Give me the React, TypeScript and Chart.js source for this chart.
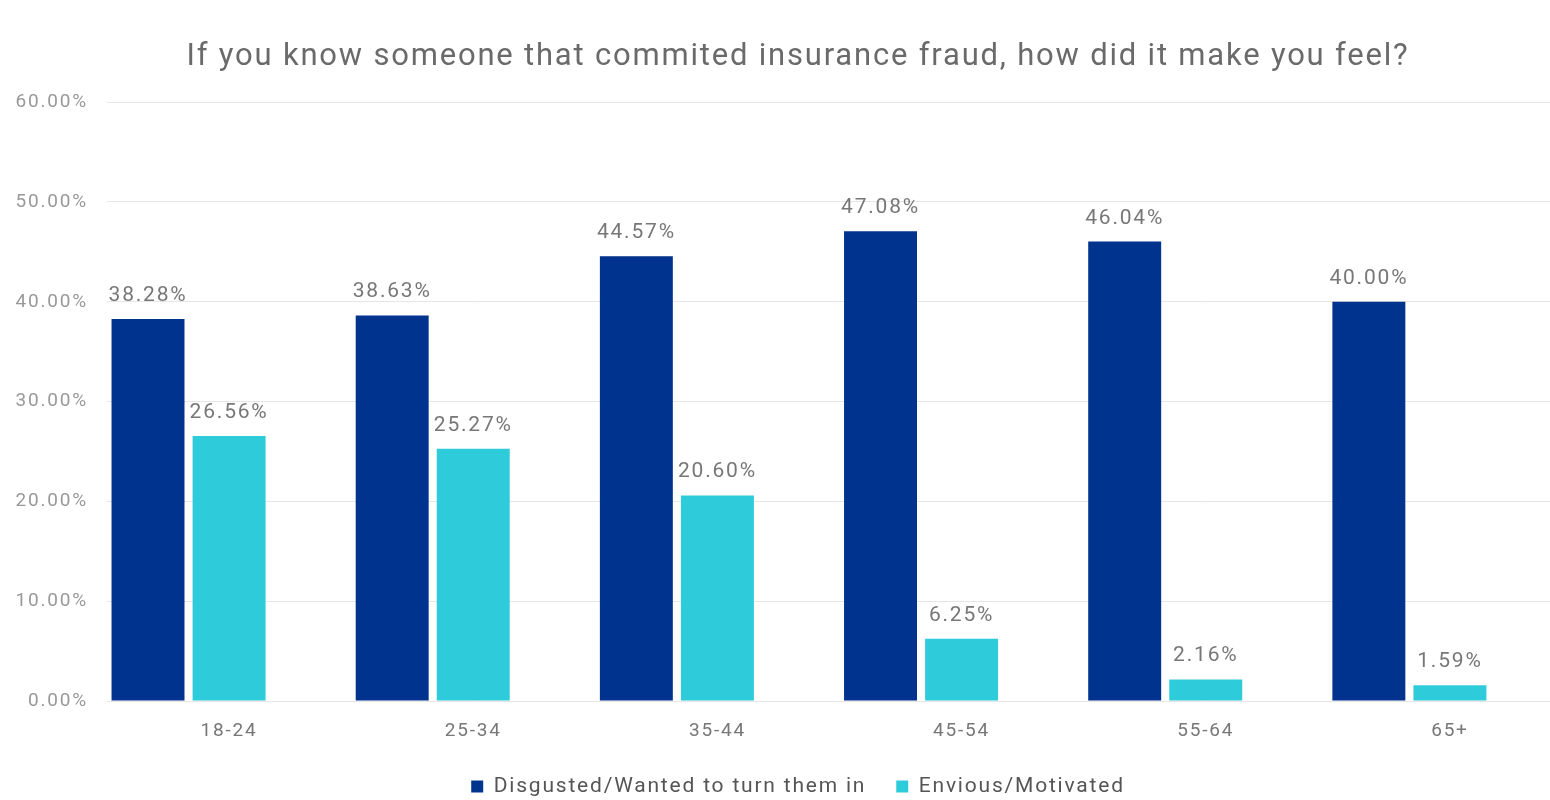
import React, { useEffect, useRef } from "react";
import { Chart, registerables } from "chart.js";

Chart.register(...registerables);

const titleText = "If you know someone that commited insurance fraud, how did it make you feel?";
const categories = ["18-24", "25-34", "35-44", "45-54", "55-64", "65+"];
const seriesNames = ["Disgusted/Wanted to turn them in", "Envious/Motivated"];
const disgusted = [38.28, 38.63, 44.57, 47.08, 46.04, 40.0];
const envious = [26.56, 25.27, 20.6, 6.25, 2.16, 1.59];
// empty third slot present in the original chart layout
const emptySlot = [null, null, null, null, null, null];
const yMin = 0;
const yMax = 60;
const yStep = 10;

const FONT = "Roboto";
const LETTER_SPACING = "1.8px";

const letterSpacing = {
  id: "letterSpacing",
  beforeUpdate(chart: any) {
    (chart.ctx as any).letterSpacing = LETTER_SPACING;
  },
  beforeLayout(chart: any) {
    (chart.ctx as any).letterSpacing = LETTER_SPACING;
  },
  beforeDraw(chart: any) {
    (chart.ctx as any).letterSpacing = LETTER_SPACING;
  },
};

const valueLabels = {
  id: "valueLabels",
  afterDatasetsDraw(chart: any) {
    const ctx = chart.ctx;
    ctx.save();
    ctx.font = `21px ${FONT}`;
    ctx.fillStyle = "#777777";
    ctx.textAlign = "center";
    ctx.textBaseline = "alphabetic";
    [0, 1].forEach((di) => {
      const meta = chart.getDatasetMeta(di);
      const data = chart.data.datasets[di].data as number[];
      meta.data.forEach((bar: any, i: number) => {
        const v = data[i];
        if (v == null) return;
        ctx.fillText(`${v.toFixed(2)}%`, bar.x, bar.y - 18);
      });
    });
    ctx.restore();
  },
};

export default function App() {
  const ref = useRef<HTMLCanvasElement>(null);
  useEffect(() => {
    if (!ref.current) return;
    const chart = new Chart(ref.current, {
      type: "bar",
      data: {
        labels: categories,
        datasets: [
          {
            label: seriesNames[0],
            data: disgusted,
            backgroundColor: "#00338D",
            categoryPercentage: 0.996,
            barPercentage: 0.9,
          },
          {
            label: seriesNames[1],
            data: envious,
            backgroundColor: "#2ECCDA",
            categoryPercentage: 0.996,
            barPercentage: 0.9,
          },
          {
            label: "",
            data: emptySlot as any,
            backgroundColor: "rgba(0,0,0,0)",
            categoryPercentage: 0.996,
            barPercentage: 0.9,
          },
        ],
      },
      options: {
        responsive: false,
        animation: false,
        layout: { padding: { left: 0, right: 0, top: 0, bottom: 0 } },
        plugins: {
          title: {
            display: true,
            text: titleText,
            color: "#6a6a6a",
            font: { family: FONT, size: 31, weight: "normal" },
            padding: { top: 39, bottom: 26 },
          },
          legend: {
            position: "bottom",
            maxHeight: 54,
            labels: {
              boxWidth: 12,
              boxHeight: 12,
              padding: 30,
              color: "#555555",
              font: { family: FONT, size: 21 },
              filter: (item: any) => item.datasetIndex < 2,
            },
          },
          tooltip: { enabled: false },
        },
        scales: {
          x: {
            grid: { display: false, drawTicks: false },
            border: { display: false },
            ticks: {
              color: "#777777",
              font: { family: FONT, size: 19 },
              padding: 19,
            },
            afterFit: (s: any) => {
              s.height = 45;
            },
          },
          y: {
            min: yMin,
            max: yMax,
            grid: { color: "#e6e6e6", drawTicks: false },
            border: { display: false },
            ticks: {
              stepSize: yStep,
              color: "#999999",
              font: { family: FONT, size: 19 },
              padding: 19,
              callback: (v: any) => `${Number(v).toFixed(2)}%`,
            },
            afterFit: (s: any) => {
              s.width = 107;
            },
          },
          yRightSpace: {
            type: "linear",
            position: "right",
            min: 0,
            max: 1,
            grid: { display: false, drawTicks: false },
            border: { display: false },
            ticks: { display: false },
            afterFit: (s: any) => {
              s.width = 24;
            },
          },
        },
      },
      plugins: [letterSpacing, valueLabels],
    });
    return () => chart.destroy();
  }, []);
  return (
    <div
      style={{
        position: "absolute",
        left: 0,
        top: 0,
        width: 1550,
        height: 800,
        overflow: "hidden",
        background: "#ffffff",
      }}
    >
      <canvas ref={ref} width={1596} height={800} style={{ display: "block" }} />
    </div>
  );
}
